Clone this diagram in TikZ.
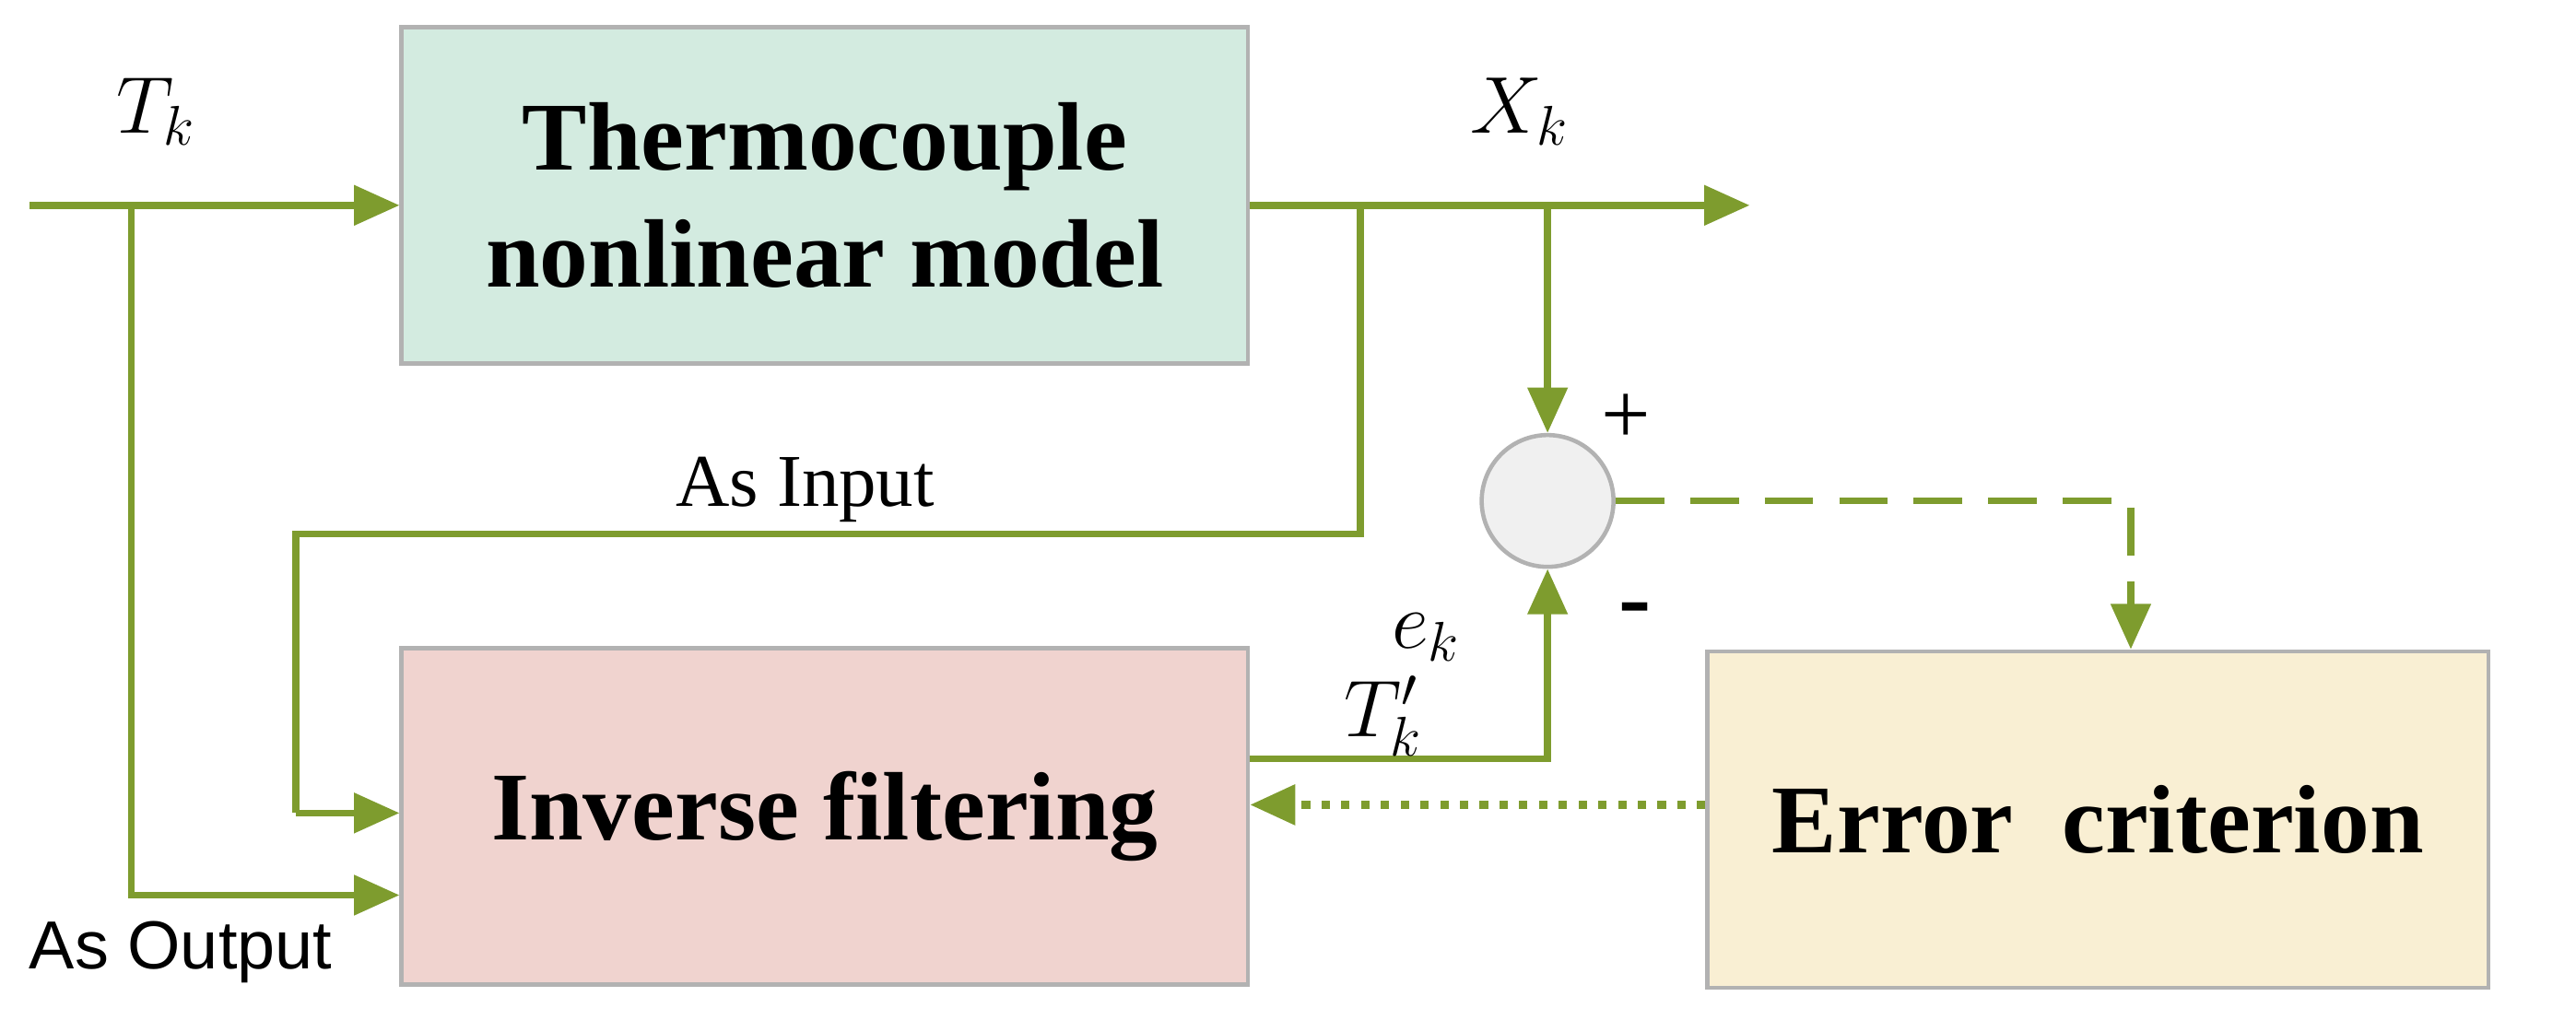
\documentclass[tikz,border=0pt]{standalone}
\usepackage{fontspec}
\setmainfont{Liberation Serif}
\setsansfont{Liberation Sans}
\usetikzlibrary{arrows.meta}
\begin{document}
\begin{tikzpicture}[x=0.017825cm,y=-0.017825cm,
 ln/.style={draw=lc,line width=2.1pt},
 ar/.style={ln,-{Triangle[length=14pt,width=12pt]}},
 box/.style={draw=gray!60,line width=1.3pt,minimum width=9.18cm,minimum height=3.65cm,font=\fontsize{30}{36}\selectfont\bfseries,align=center},
 lab/.style={font=\fontsize{23}{27}\selectfont},
 mlab/.style={font=\fontsize{27}{32}\selectfont}]
\definecolor{lc}{HTML}{7E9C2E}
\definecolor{gfill}{HTML}{D3EBE0}
\definecolor{pfill}{HTML}{F0D3CF}
\definecolor{yfill}{HTML}{F9EFD3}
\useasboundingbox (0,0) rectangle (1568,621);
\node[box,fill=gfill] (tm) at (502,119) {Thermocouple\\nonlinear model};
\node[box,fill=pfill] (inv) at (502,497) {Inverse filtering};
\node[box,fill=yfill,minimum width=8.47cm] (err) at (1277,499) {Error\ \ criterion};
\node[circle,draw=gray!60,fill=gray!12,line width=1.3pt,minimum size=1.43cm,inner sep=0] (s) at (942,305) {};
\coordinate (in) at (18,125);
\coordinate (b1) at (80,125);
\coordinate (b1d) at (80,545);
\coordinate (out) at (1065,125);
\coordinate (b2) at (828,125);
\coordinate (b2d) at (828,325);
\coordinate (b2l) at (180,325);
\coordinate (b2b) at (180,495);
\coordinate (b3) at (942,125);
\coordinate (c1) at (942,462);
\coordinate (d1) at (1297,305);
\draw[ar] (in) -- (tm.west|-in);
\draw[ar] (b1) -- (b1d) -- (inv.west|-b1d);
\draw[ar] (tm.east|-out) -- (out);
\draw[ln] (b2) -- (b2d) -- (b2l) -- (b2b);
\draw[ar] (b2b) -- (inv.west|-b2b);
\draw[ar] (b3) -- (s.north);
\draw[ar] (inv.east|-c1) -- (c1) -- (s.south);
\draw[ar,dash pattern=on 15pt off 8pt] (s.east) -- (d1) -- (d1|-err.north);
\draw[ln,line width=2.6pt,dash pattern=on 2.6pt off 3.5pt,-{Triangle[length=14pt,width=12pt]}] (err.west|-0,490) -- (inv.east|-0,490);
\node[mlab] at (95,68) {$T_k$};
\node[mlab] at (925,68) {$X_k$};
\node[mlab] at (842,436) {$T'_k$};
\node[mlab] at (868,388) {$e_k$};
\node[mlab] at (990,255) {+};
\node[font=\fontsize{30}{36}\selectfont\bfseries] at (995,375) {-};
\node[lab] at (490,298) {As Input};
\node[lab,font=\sffamily\fontsize{21}{25}\selectfont] at (110,580) {As Output};
\end{tikzpicture}
\end{document}
